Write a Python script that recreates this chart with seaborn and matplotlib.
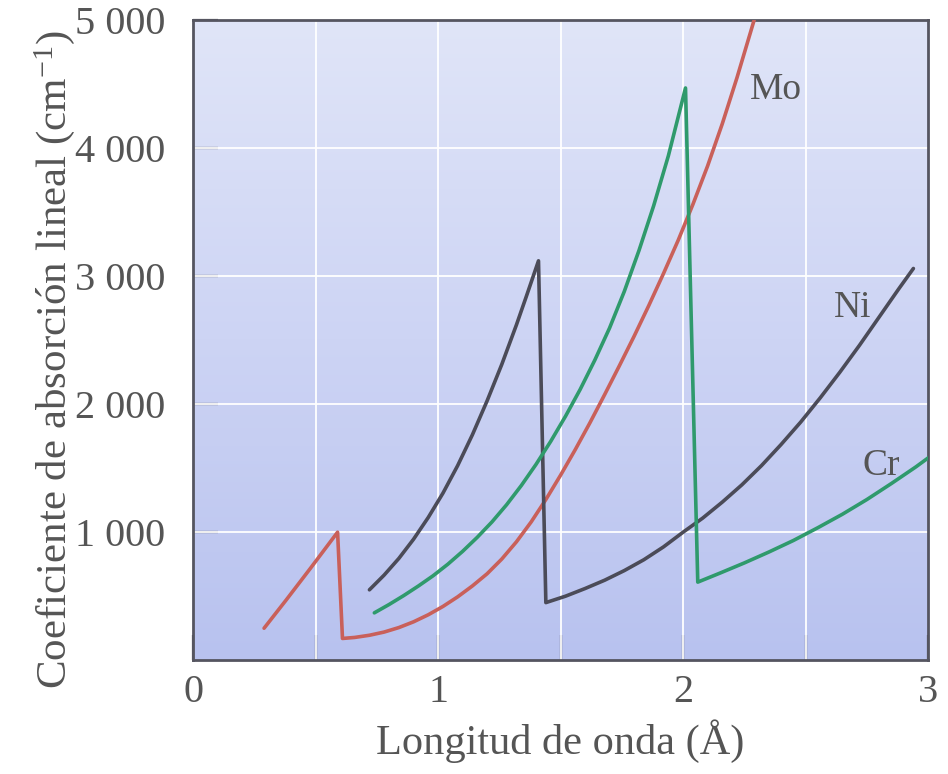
import numpy as np
import pandas as pd
import seaborn as sns
import matplotlib.pyplot as plt

# absorption curves (wavelength in Angstrom, mu in cm^-1)
mo_x = [0.29, 0.38, 0.48, 0.59,
        0.61, 0.66, 0.72, 0.78, 0.84, 0.90, 0.96, 1.02, 1.08, 1.14, 1.20, 1.26, 1.32, 1.38, 1.44,
        1.50, 1.56, 1.62, 1.68, 1.74, 1.80, 1.86, 1.92, 1.98, 2.04, 2.10, 2.16, 2.22, 2.29]
mo_y = [250, 470, 720, 1000,
        170, 178, 195, 220, 255, 300, 355, 420, 495, 580, 675, 790, 925, 1080, 1255,
        1445, 1645, 1855, 2075, 2300, 2530, 2770, 3020, 3280, 3560, 3860, 4190, 4550, 5000]

ni_x = [0.72, 0.78, 0.84, 0.90, 0.96, 1.02, 1.08, 1.14, 1.20, 1.26, 1.32, 1.36, 1.41,
        1.44, 1.52, 1.60, 1.68, 1.76, 1.84, 1.92, 2.00, 2.08, 2.16, 2.24, 2.32, 2.40,
        2.48, 2.56, 2.64, 2.72, 2.80, 2.88, 2.94]
ni_y = [550, 665, 795, 945, 1115, 1305, 1520, 1760, 2025, 2310, 2620, 2840, 3120,
        450, 500, 560, 625, 700, 785, 885, 1000, 1110, 1235, 1370, 1520, 1685,
        1860, 2050, 2250, 2460, 2680, 2900, 3060]

cr_x = [0.74, 0.80, 0.86, 0.92, 0.98, 1.04, 1.10, 1.16, 1.22, 1.28, 1.34, 1.40, 1.46,
        1.52, 1.58, 1.64, 1.70, 1.76, 1.82, 1.88, 1.94, 2.01,
        2.06, 2.15, 2.25, 2.35, 2.45, 2.55, 2.65, 2.75, 2.85, 2.95, 3.00]
cr_y = [370, 435, 505, 580, 660, 750, 850, 960, 1080, 1215, 1365, 1530, 1710,
        1905, 2115, 2345, 2595, 2880, 3200, 3550, 3940, 4470,
        610, 680, 760, 845, 935, 1035, 1140, 1255, 1380, 1510, 1580]

names = ['Mo', 'Ni', 'Cr']
colors = {'Mo': '#c9605a', 'Ni': '#4b4b58', 'Cr': '#2f9a6c'}
label_pos = {'Mo': (2.38, 4460), 'Ni': (2.69, 2750), 'Cr': (2.81, 1520)}

yticks = [1000, 2000, 3000, 4000, 5000]
ytick_labels = ['1 000', '2 000', '3 000', '4 000', '5 000']
xticks = [0, 0.5, 1, 1.5, 2, 2.5, 3]
xtick_labels = ['0', '', '1', '', '2', '', '3']

rows = []
for n, xs, ys in zip(names, [mo_x, ni_x, cr_x], [mo_y, ni_y, cr_y]):
    for i, (a, b) in enumerate(zip(xs, ys)):
        rows.append({'elem': n, 'i': i, 'x': a, 'y': b})
df = pd.DataFrame(rows)

sns.set_style('ticks')
plt.rcParams['font.family'] = ['Liberation Serif', 'DejaVu Serif']
plt.rcParams['mathtext.fontset'] = 'custom'
plt.rcParams['mathtext.rm'] = 'Liberation Serif'
plt.rcParams['mathtext.it'] = 'Liberation Serif:italic'

txt = '#555555'
fig = plt.figure(figsize=(9.48, 7.74), dpi=100)
ax = fig.add_axes([0.2036, 0.147, 0.7754, 0.827])

# bluish paper background, lighter at the top
grad = np.linspace(0, 1, 256).reshape(-1, 1)
cmap = sns.blend_palette(['#e0e5f8', '#cdd4f4', '#b8c2ef'], as_cmap=True)
ax.imshow(grad, extent=[0, 3, 0, 5000], origin='upper', aspect='auto', cmap=cmap, zorder=0)

for xv in [0.5, 1, 1.5, 2, 2.5]:
    ax.axvline(xv, color='white', lw=1.3, zorder=1)
for yv in [1000, 2000, 3000, 4000]:
    ax.axhline(yv, color='white', lw=1.3, zorder=1)

sns.lineplot(data=df, x='x', y='y', hue='elem', palette=colors, units='elem',
             estimator=None, sort=False, lw=2.6, legend=False, ax=ax, zorder=3)

for n in names:
    ax.text(*label_pos[n], n, fontsize=27, color=txt, ha='center', va='center', zorder=4)

ax.set_xlim(0, 3)
ax.set_ylim(0, 5000)
ax.set_xticks(xticks)
ax.set_xticklabels(xtick_labels)
ax.set_yticks(yticks)
ax.set_yticklabels(ytick_labels)
ax.tick_params(axis='both', direction='in', length=18, width=1.6, color='#555560',
               labelsize=29, labelcolor=txt)
ax.tick_params(axis='x', pad=10)
ax.tick_params(axis='y', pad=20)

for s in ax.spines.values():
    s.set_color('#555560')
    s.set_linewidth(2)

ax.set_xlabel('Longitud de onda (Å)', fontsize=30.5, color=txt)
ax.set_ylabel('Coeficiente de absorción lineal (cm$^{-1}$)', fontsize=31, color=txt)
ax.xaxis.set_label_coords(0.5, -0.093)
ax.yaxis.set_label_coords(-0.158, 0.47)

plt.savefig('out.png', dpi=100)
